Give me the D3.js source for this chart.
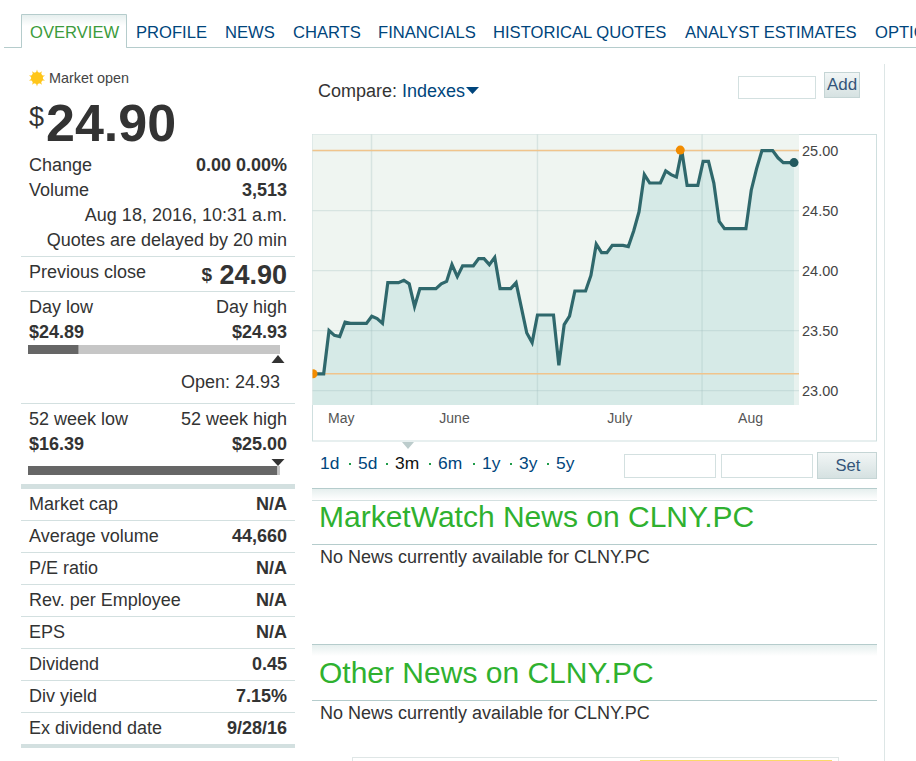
<!DOCTYPE html>
<html lang="en">
<head>
<meta charset="UTF-8">
<title>CLNY.PC overview</title>
<script src="https://d3js.org/d3.v7.min.js"></script>
<style>
html, body { margin: 0; padding: 0; background: #fff; overflow: hidden; }
svg { display: block; font-family: "Liberation Sans", Arial, sans-serif; }
.axis path, .axis line { display: none; }
</style>
</head>
<body>
<svg id="page" width="916" height="761"></svg>
<script>
// closing price per calendar day, May 20 to Aug 18 2016
const prices = [
  23.14, 23.14, 23.14, 23.50, 23.46, 23.45, 23.57, 23.56, 23.56, 23.56,
  23.56, 23.62, 23.60, 23.56, 23.90, 23.90, 23.90, 23.92, 23.89, 23.70,
  23.85, 23.85, 23.85, 23.85, 23.89, 23.91, 24.05, 23.95, 24.04, 24.04,
  24.04, 24.10, 24.10, 24.05, 24.11, 23.85, 23.85, 23.85, 23.90, 23.69,
  23.48, 23.40, 23.63, 23.63, 23.63, 23.63, 23.21, 23.55, 23.62, 23.83,
  23.83, 23.83, 23.96, 24.22, 24.15, 24.15, 24.21, 24.21, 24.21, 24.20,
  24.33, 24.49, 24.80, 24.73, 24.73, 24.73, 24.83, 24.80, 24.78, 25.00,
  24.71, 24.71, 24.71, 24.91, 24.91, 24.73, 24.41, 24.35, 24.35, 24.35,
  24.35, 24.35, 24.67, 24.85, 25.00, 25.00, 25.00, 24.94, 24.90, 24.90, 24.90
];
const yTicks = [25, 24.5, 24, 23.5, 23];
const monthNames = ["May", "June", "July", "Aug"];
const monthEdges = [10.95, 42, 72.8];   // day index of the month grid lines
const periodHigh = 25.00;
const periodLow = 23.14;

const tabs = ["OVERVIEW", "PROFILE", "NEWS", "CHARTS", "FINANCIALS", "HISTORICAL QUOTES", "ANALYST ESTIMATES", "OPTIONS"];
const tabX = [30, 136, 225, 293, 378, 493, 685, 875];
const statNames = ["Market cap", "Average volume", "P/E ratio", "Rev. per Employee", "EPS", "Dividend", "Div yield", "Ex dividend date"];
const statValues = ["N/A", "44,660", "N/A", "N/A", "N/A", "0.45", "7.15%", "9/28/16"];
const ranges = ["1d", "5d", "3m", "6m", "1y", "3y", "5y"];
const rangeX = [320, 358, 395, 438, 482, 519, 556];
const dayRange = [24.89, 24.93], dayPrice = 24.898;
const yearRange = [16.39, 25.00], yearPrice = 24.90;

const ink = "#333", blue = "#00457c", rule = "#d3e0e0", ruleDark = "#b5cccc", green = "#2fb12f";
const bodySize = 18;

const svg = d3.select("#page");
const defs = svg.append("defs");

function fade(id, stops) {
  const g = defs.append("linearGradient").attr("id", id).attr("x1", 0).attr("x2", 0).attr("y1", 0).attr("y2", 1);
  stops.forEach((c, i) => g.append("stop").attr("offset", i / (stops.length - 1)).attr("stop-color", c));
}
fade("shade", ["#e6efee", "#ffffff"]);
fade("btn", ["#f2f6f6", "#d5e1e1"]);

function text(x, y, s, opts) {
  opts = opts || {};
  return svg.append("text").attr("x", x).attr("y", y).text(s)
    .attr("font-size", opts.size || bodySize)
    .attr("font-weight", opts.bold ? "bold" : null)
    .attr("text-anchor", opts.anchor || "start")
    .attr("fill", opts.color || ink);
}
function hline(x1, x2, y, color, w) {
  svg.append("line").attr("x1", x1).attr("x2", x2).attr("y1", y).attr("y2", y)
    .attr("stroke", color || rule).attr("stroke-width", w || 1);
}
function box(x, y, w, h, fill, stroke) {
  return svg.append("rect").attr("x", x).attr("y", y).attr("width", w).attr("height", h)
    .attr("fill", fill || "none").attr("stroke", stroke || "none");
}
function tri(cx, y1, y2, halfW, color) {
  svg.append("path").attr("d", d3.line()([[cx - halfW, y1], [cx + halfW, y1], [cx, y2]])).attr("fill", color);
}

// tabs
hline(4, 916, 47.5, ruleDark);
box(21.5, 14.5, 105, 33, "#fff");
box(22, 15, 104, 11, "url(#shade)");
svg.append("path").attr("d", "M21.5 47.5V14.5H126.5V47.5").attr("fill", "none").attr("stroke", ruleDark);
hline(22, 126, 47.5, "#fff");
svg.selectAll(".tab").data(tabs).enter().append("text").attr("class", "tab")
  .attr("x", (d, i) => tabX[i]).attr("y", 38).attr("font-size", 16.6)
  .attr("fill", (d, i) => i ? blue : "#3c9b3c").text(d => d);

// left column, quote
const sun = svg.append("g").attr("transform", "translate(37,78)");
sun.append("path").attr("d", d3.symbol(d3.symbolStar, 80)()).attr("fill", "#ffc61a");
sun.append("path").attr("d", d3.symbol(d3.symbolStar, 80)()).attr("fill", "#ffc61a").attr("transform", "rotate(36)");
sun.append("circle").attr("r", 6).attr("fill", "#ffc61a");
text(49, 83, "Market open", { size: 14.4, color: "#444" });
text(29, 126, "$", { size: 27 });
text(46, 141, "24.90", { size: 52, bold: true });
text(29, 171, "Change");
text(287, 171, "0.00 0.00%", { bold: true, anchor: "end" });
text(29, 196, "Volume");
text(287, 196, "3,513", { bold: true, anchor: "end" });
text(287, 221, "Aug 18, 2016, 10:31 a.m.", { anchor: "end" });
text(287, 246, "Quotes are delayed by 20 min", { anchor: "end" });
hline(21, 295, 256.5);
text(29, 278, "Previous close");
text(287, 284, "24.90", { size: 27, bold: true, anchor: "end" });
text(212, 281, "$", { size: 19, bold: true, anchor: "end" });
hline(21, 295, 291.5);

// range bars
function rangeBar(y, domain, value) {
  const x = d3.scaleLinear().domain(domain).range([28, 280]);
  box(28, y, 252, 9, "#c6c6c6");
  box(28, y, x(value) - 28, 9, "#666");
}
text(29, 313, "Day low");
text(287, 313, "Day high", { anchor: "end" });
text(29, 338, "$24.89", { bold: true });
text(287, 338, "$24.93", { bold: true, anchor: "end" });
rangeBar(345, dayRange, dayPrice);
tri(278, 363, 355, 6.5, "#333");
text(280, 388, "Open: 24.93", { anchor: "end" });
hline(21, 295, 403.5);
text(29, 425, "52 week low");
text(287, 425, "52 week high", { anchor: "end" });
text(29, 450, "$16.39", { bold: true });
text(287, 450, "$25.00", { bold: true, anchor: "end" });
rangeBar(466, yearRange, yearPrice);
tri(278, 459, 466, 6.5, "#333");
box(21, 484, 274, 5, rule);

// stats
statNames.forEach((name, i) => {
  const y = 510 + i * 32;
  text(29, y, name);
  text(287, y, statValues[i], { bold: true, anchor: "end" });
  if (i < statNames.length - 1) hline(21, 295, y + 10.5);
});
box(21, 744, 274, 4, rule);

// compare row
text(318, 97, "Compare:");
text(402, 97, "Indexes", { color: blue });
tri(472.5, 87, 94, 6.5, blue);
box(738.5, 76.5, 77, 22, "#fff", rule);
box(824.5, 72.5, 35, 25, "url(#btn)", "#c5d5d5");
text(842, 90, "Add", { anchor: "middle", color: "#34557a", size: 17 });

// chart
const plot = { left: 312.5, right: 799, top: 134.5, bottom: 405 };
box(312.5, 134.5, 564, 306.5, "#fff", "#cfdfdf");
box(plot.left, plot.top, plot.right - plot.left, plot.bottom - plot.top, "#eff5f1");

const x = d3.scaleLinear().domain([0, prices.length - 1]).range([313, 794]);
const y = d3.scaleLinear().domain([23, 25]).range([390.6, 150.6]);

const area = d3.area().x((d, i) => x(i)).y0(plot.bottom).y1(d => y(d));
const line = d3.line().x((d, i) => x(i)).y(d => y(d));

defs.append("clipPath").attr("id", "plotClip").append("rect")
  .attr("x", plot.left).attr("y", plot.top).attr("width", 500).attr("height", plot.bottom - plot.top);

svg.append("path").datum(prices).attr("d", area).attr("fill", "#d6eae7");
box(794, y(prices[prices.length - 1]), plot.right - 794, plot.bottom - y(prices[prices.length - 1]), "#e8f2ef");

const grid = svg.append("g").attr("stroke", "#9fbcbc").attr("stroke-opacity", 0.3).attr("stroke-width", 1.4);
grid.selectAll(".h").data(yTicks).enter().append("line").attr("class", "h")
  .attr("x1", plot.left).attr("x2", plot.right)
  .attr("y1", d => y(d)).attr("y2", d => y(d));
grid.selectAll(".v").data(monthEdges).enter().append("line").attr("class", "v")
  .attr("x1", d => x(d)).attr("x2", d => x(d))
  .attr("y1", plot.top).attr("y2", plot.bottom);

svg.selectAll(".limit").data([periodHigh, periodLow]).enter().append("line").attr("class", "limit")
  .attr("x1", plot.left).attr("x2", plot.right)
  .attr("y1", d => y(d)).attr("y2", d => y(d))
  .attr("stroke", "#f0c48c").attr("stroke-width", 1.5);

svg.append("path").datum(prices).attr("d", line).attr("fill", "none")
  .attr("stroke", "#2f686c").attr("stroke-width", 3.2).attr("stroke-linejoin", "miter");

const marks = svg.append("g").attr("clip-path", "url(#plotClip)");
marks.append("circle").attr("cx", x(0)).attr("cy", y(periodLow)).attr("r", 4.5).attr("fill", "#f28c00");
marks.append("circle").attr("cx", x(prices.indexOf(periodHigh)) - 1.5).attr("cy", y(periodHigh) - 0.5).attr("r", 4.5).attr("fill", "#f28c00");
marks.append("circle").attr("cx", x(prices.length - 1)).attr("cy", y(prices[prices.length - 1])).attr("r", 4.5).attr("fill", "#22595e");

svg.append("g").attr("class", "axis").attr("transform", `translate(${plot.right},0)`)
  .call(d3.axisRight(y).tickValues(yTicks).tickFormat(d3.format(".2f")).tickSize(0).tickPadding(3))
  .call(g => g.selectAll("text").attr("font-size", 14.5).attr("font-family", "Liberation Sans").attr("fill", "#444"));

// month names sit midway between the grid lines
const edges = [0].concat(monthEdges, [x.invert(plot.right)]);
svg.selectAll(".month").data(monthNames).enter().append("text").attr("class", "month")
  .attr("x", (d, i) => x((edges[i] + edges[i + 1]) / 2) - (i === 0 ? 1 : 0)).attr("y", 423)
  .attr("text-anchor", "middle").attr("font-size", 14).attr("fill", "#555").text(d => d);

// range links
tri(408, 442, 449, 6, "#bccccc");
svg.selectAll(".range").data(ranges).enter().append("text").attr("class", "range")
  .attr("x", (d, i) => rangeX[i]).attr("y", 469).attr("font-size", 17.4)
  .attr("fill", d => d === "3m" ? "#111" : blue).text(d => d);
svg.selectAll(".sep").data(ranges.slice(1)).enter().append("rect").attr("class", "sep")
  .attr("x", (d, i) => rangeX[i + 1] - 9).attr("y", 463)
  .attr("width", 2).attr("height", 2).attr("fill", "#1f9c4a");
box(624.5, 454.5, 91, 23, "#fff", rule);
box(721.5, 454.5, 91, 23, "#fff", rule);
box(817.5, 452.5, 59, 26, "url(#btn)", "#c5d5d5");
text(848, 471, "Set", { anchor: "middle", color: "#34557a", size: 16.5 });

// news sections
box(312, 489, 565, 11, "url(#shade)");
hline(312, 877, 488.5, ruleDark);
hline(312, 877, 500.5, rule);
text(319, 527, "MarketWatch News on CLNY.PC", { size: 30, color: green });
hline(312, 877, 544.5, ruleDark);
text(320, 563, "No News currently available for CLNY.PC");

box(312, 645, 565, 11, "url(#shade)");
hline(312, 877, 644.5, ruleDark);
text(319, 683, "Other News on CLNY.PC", { size: 30, color: green });
hline(312, 877, 700.5, ruleDark);
text(320, 719, "No News currently available for CLNY.PC");

svg.append("line").attr("x1", 884.5).attr("x2", 884.5).attr("y1", 64).attr("y2", 761).attr("stroke", "#dde6e6");
box(352.5, 757.5, 486, 10, "#fff", "#dfe6e6");
box(640, 760, 192, 3, "#fbd96a");
</script>
</body>
</html>
